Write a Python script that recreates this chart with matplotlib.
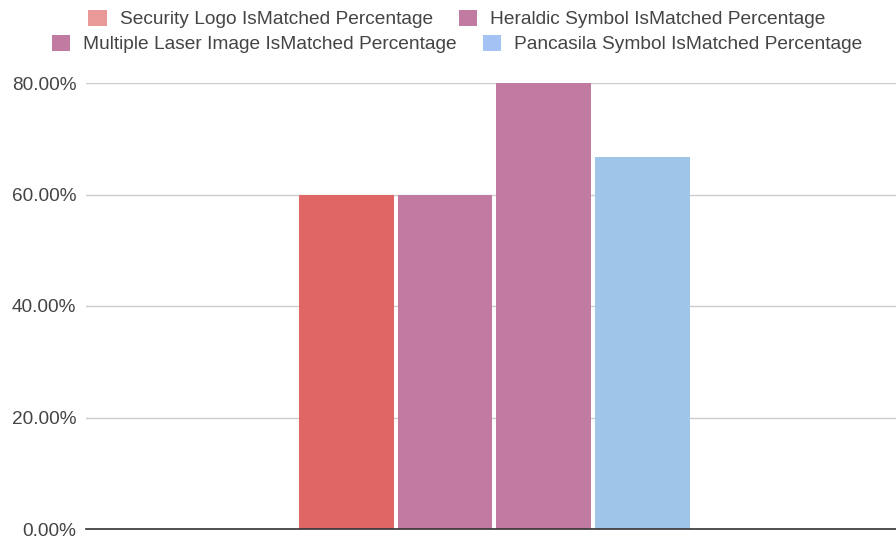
import matplotlib.pyplot as plt
from matplotlib.patches import Patch
from matplotlib.ticker import FuncFormatter

plt.rcParams['font.family'] = ['Liberation Sans', 'DejaVu Sans']

series = ["Security Logo IsMatched Percentage",
          "Heraldic Symbol IsMatched Percentage",
          "Multiple Laser Image IsMatched Percentage",
          "Pancasila Symbol IsMatched Percentage"]
values = [60.0, 60.0, 80.0, 66.67]
bar_colors = ["#E06666", "#C27BA0", "#C27BA0", "#9FC5E8"]
legend_colors = ["#EA9999", "#C27BA0", "#C27BA0", "#A4C2F4"]
yticks = [0, 20, 40, 60, 80]

fig = plt.figure(figsize=(8.96, 5.39), dpi=100)
ax = fig.add_axes([86 / 896, 10 / 539, 810 / 896, 446 / 539])

pos = list(range(len(values)))
ax.bar(pos, values, width=0.96, color=bar_colors, zorder=3)

ax.set_xlim(-2.64, 5.57)
ax.set_ylim(0, 80)
ax.set_yticks(yticks)
ax.yaxis.set_major_formatter(FuncFormatter(lambda v, p: f"{v:.2f}%"))
ax.set_xticks([])
ax.tick_params(axis='y', length=0, pad=7, labelsize=13.7, labelcolor="#444444")
ax.grid(axis='y', color="#cccccc", linewidth=1, zorder=0)
for s in ['top', 'right', 'left']:
    ax.spines[s].set_visible(False)
ax.spines['bottom'].set_color("#333333")
ax.spines['bottom'].set_linewidth(1.2)
ax.spines['bottom'].set_zorder(4)

# two centred legend rows above the plot
handles = [Patch(facecolor=c, edgecolor='none') for c in legend_colors]
kw = dict(ncol=2, frameon=False, fontsize=13.8, handlelength=0.95, handleheight=0.95,
          handletextpad=0.68, columnspacing=1.37, labelcolor="#444444", borderpad=0)
fig.legend(handles[:2], series[:2], loc='center', bbox_to_anchor=(457 / 896, 1 - 19 / 539), **kw)
fig.legend(handles[2:], series[2:], loc='center', bbox_to_anchor=(457 / 896, 1 - 44 / 539), **kw)

fig.savefig("out.png", dpi=100)
